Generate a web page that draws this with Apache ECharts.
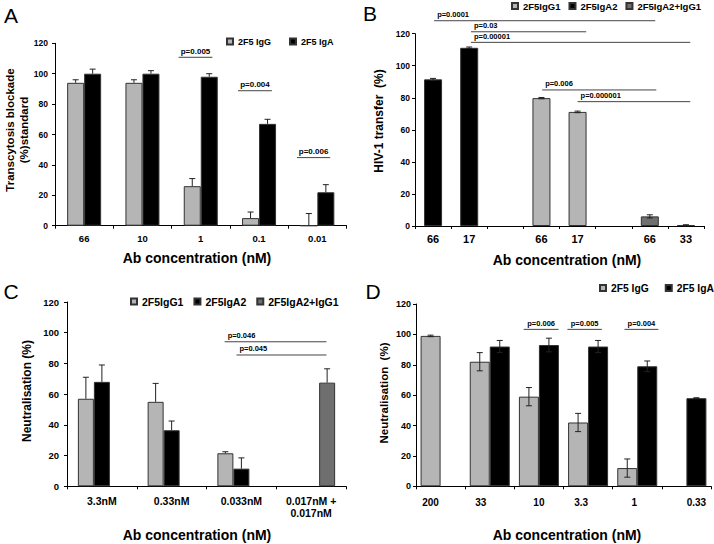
<!DOCTYPE html>
<html><head><meta charset="utf-8">
<script src="https://cdn.jsdelivr.net/npm/echarts@6/dist/echarts.min.js"></script>
<style>html,body{margin:0;padding:0;background:#fff}#c{width:714px;height:544px}</style>
</head><body><div id="c"></div>
<script>
// ---------- Panel A ----------
const catsA = ['66', '10', '1', '0.1', '0.01'];
const igGA = [94, 94, 26, 5, 0];
const igGAErr = [2, 2, 5, 4, 8];
const igAA = [100, 100, 98, 67, 22];
const igAAErr = [3, 2, 2, 3, 5];
const pLabelsA = ['p=0.005', 'p=0.004', 'p=0.006'];
const pCatsA = [2, 3, 4];
const pLevelsA = [110.8, 88.8, 44.8];

// ---------- Panel B ----------
const catsB = ['66', '17', '', '66', '17', '', '66', '33'];
const igA2B = [91.5, 111.2, null, null, null, null, null, null];
const igA2BErr = [0.6, 0.5, null, null, null, null, null, null];
const igG1B = [null, null, null, 79.8, 71.2, null, null, null];
const igG1BErr = [null, null, null, 0.4, 0.5, null, null, null];
const comboB = [null, null, null, null, null, null, 6.0, 0.5];
const comboBErr = [null, null, null, null, null, null, 1.0, 0.3];
const pLabelsB = ['p=0.0001', 'p=0.03', 'p=0.00001', 'p=0.006', 'p=0.000001'];
const pFromB = [0, 1, 1, 3, 4];
const pToB = [6, 4, 7, 6, 7];
const pLevelsB = [128.1, 121.2, 114.6, 84.9, 77.6];

// ---------- Panel C ----------
const catsC = ['3.3nM', '0.33nM', '0.033nM', '0.017nM +\n0.017nM'];
const igG1C = [57, 55, 21.5, null];
const igG1CErr = [14, 12, 1, null];
const igA2C = [68, 36.5, 11.5, null];
const igA2CErr = [11, 6, 7, null];
const comboC = [null, null, null, 67.5];
const comboCErr = [null, null, null, 9];
const pLabelsC = ['p=0.046', 'p=0.045'];
const pLevelsC = [94.1, 85.5];

// ---------- Panel D ----------
const catsD = ['200', '33', '10', '3.3', '1', '0.33'];
const igGD = [99, 82, 59, 42, 12, null];
const igGDErr = [0.5, 6, 6, 6, 6, null];
const igAD = [null, 92, 93, 92, 79, 58];
const igADErr = [null, 4, 4.5, 4, 3.5, 0.3];
const pLabelsD = ['p=0.006', 'p=0.005', 'p=0.004'];
const pCatsD = [2, 3, 4];
const pLevelsD = [103.3, 103.3, 103.3];

const FONT = 'Liberation Sans, Arial, sans-serif';
const LIGHT = '#b5b5b5', BLACK = '#000000', DARK = '#6f6f6f';

function errRender(barW, slot, nSlots, twoSided) {
  return function (params, api) {
    const ci = api.value(0), v = api.value(1), e = api.value(2);
    const base = api.coord([ci, v]);
    const x = base[0] + (slot - (nSlots - 1) / 2) * barW;
    const top = api.coord([ci, v + e])[1];
    const bot = twoSided ? api.coord([ci, v - e])[1] : base[1];
    const style = { stroke: '#222', lineWidth: 1, fill: 'none' };
    const ch = [
      { type: 'line', shape: { x1: x, y1: top, x2: x, y2: bot }, style: style },
      { type: 'line', shape: { x1: x - 3, y1: top, x2: x + 3, y2: top }, style: style }
    ];
    if (twoSided) ch.push({ type: 'line', shape: { x1: x - 3, y1: bot, x2: x + 3, y2: bot }, style: style });
    return { type: 'group', children: ch };
  };
}
function errSeries(idx, vals, errs, barW, slot, nSlots, twoSided) {
  const data = [];
  vals.forEach((v, i) => { if (v !== null && errs[i] !== null) data.push([i, v, errs[i]]); });
  return { type: 'custom', xAxisIndex: idx, yAxisIndex: idx, z: 5, silent: true,
    itemStyle: { color: '#222' },
    renderItem: errRender(barW, slot, nSlots, twoSided), data: data };
}
// p-value bracket: spans[i] = [fromFrac, toFrac] of a category width
function pSeries(idx, labels, levels, froms, tos, spans, align, fs) {
  const data = levels.map((l, i) => [froms[i], l]);
  return { type: 'custom', xAxisIndex: idx, yAxisIndex: idx, z: 6, silent: true, clip: false,
    itemStyle: { color: '#000' },
    renderItem: function (params, api) {
      const i = params.dataIndex;
      const sp = spans[i];
      const catW = api.size([1, 0])[0];
      const lvl = api.value(1);
      const p1 = api.coord([froms[i], lvl]);
      const p2 = api.coord([tos[i], lvl]);
      const x1 = p1[0] + sp[0] * catW, x2 = p2[0] + sp[1] * catW, y = p1[1];
      return { type: 'group', children: [
        { type: 'line', shape: { x1: x1, y1: y, x2: x2, y2: y }, style: { stroke: '#444', lineWidth: 1, fill: 'none' } },
        { type: 'text', style: { text: labels[i], x: align === 'left' ? x1 + 3 : (x1 + x2) / 2, y: y - 2,
            align: align, verticalAlign: 'bottom',
            font: 'bold ' + fs + 'px ' + FONT, fill: '#000', stroke: '#000', lineWidth: 0 } }
      ] };
    }, data: data };
}
function barSeries(idx, name, vals, color, barW, stack) {
  const s = { type: 'bar', name: name, xAxisIndex: idx, yAxisIndex: idx, data: vals.map(v => v === null ? '-' : v),
    barWidth: barW, barGap: '0%',
    itemStyle: { color: color, borderColor: '#333', borderWidth: 1 } };
  if (stack) s.stack = stack;
  return s;
}
function xAx(idx, data, fs, margin, shifts) {
  const items = data.map((c, i) => {
    if (!shifts || !shifts[i]) return c;
    const s = shifts[i];
    return { value: c, textStyle: { padding: s < 0 ? [0, -2 * s, 0, 0] : [0, 0, 0, 2 * s] } };
  });
  return { type: 'category', gridIndex: idx, data: items,
    axisLine: { show: true, lineStyle: { color: '#000', width: 1 } },
    axisTick: { show: true, length: 3, lineStyle: { color: '#000' } },
    axisLabel: { interval: 0, fontSize: fs, fontWeight: 'bold', color: '#000', margin: margin, fontFamily: FONT, lineHeight: 12 } };
}
function yAx(idx, fs, margin) {
  return { type: 'value', gridIndex: idx, min: 0, max: 120, interval: 20, splitLine: { show: false },
    axisLine: { show: true, lineStyle: { color: '#000', width: 1 } },
    axisTick: { show: true, length: 3, lineStyle: { color: '#000' } },
    axisLabel: { fontSize: fs, fontWeight: 'bold', color: '#000', margin: margin, fontFamily: FONT } };
}
function gText(text, x, y, size, weight, rot) {
  return { type: 'text', x: x, y: y, rotation: rot || 0,
    style: { text: text, x: 0, y: 0, align: 'center', verticalAlign: 'middle', textAlign: 'center', textVerticalAlign: 'middle',
      font: weight + ' ' + size + 'px ' + FONT, fill: '#000', lineHeight: size + 2 } };
}
function legendAt(left, top, names, fs, gap) {
  return { left: left, top: top, data: names, icon: 'rect', itemWidth: 6, itemHeight: 6, itemGap: gap,
    selectedMode: false, padding: 0, textStyle: { fontSize: fs, fontWeight: 'bold', color: '#000', fontFamily: FONT } };
}

const chart = echarts.init(document.getElementById('c'), null, { renderer: 'svg' });
const option = {
  animation: false,
  backgroundColor: '#fff',
  textStyle: { fontFamily: FONT },
  grid: [
    { left: 55, top: 43.3, width: 291.5, height: 182.4 },
    { left: 415, top: 33.7, width: 289, height: 192.3 },
    { left: 67, top: 302, width: 279, height: 184.3 },
    { left: 416, top: 304, width: 295, height: 182.3 }
  ],
  xAxis: [xAx(0, catsA, 9.5, 7), xAx(1, catsB, 11, 7), xAx(2, catsC, 10.5, 9),
          xAx(3, catsD, 10, 10, [-10, -9, 0, -7, -3, 10])],
  yAxis: [yAx(0, 8.5, 7), yAx(1, 8.5, 5), yAx(2, 9.5, 8), yAx(3, 9, 5)],
  legend: [
    legendAt(226, 37, ['2F5 IgG', '2F5 IgA'], 9, 18),
    legendAt(511, 1, ['2F5IgG1', '2F5IgA2', '2F5IgA2+IgG1'], 9.5, 8),
    legendAt(130, 296, ['2F5IgG1', '2F5IgA2', '2F5IgA2+IgG1'], 10.5, 10),
    legendAt(599, 283, ['2F5 IgG', '2F5 IgA'], 10.3, 16)
  ],
  series: [
    barSeries(0, '2F5 IgG', igGA, LIGHT, 17),
    barSeries(0, '2F5 IgA', igAA, BLACK, 17),
    errSeries(0, igGA, igGAErr, 17, 0, 2, false),
    errSeries(0, igAA, igAAErr, 17, 1, 2, false),
    pSeries(0, pLabelsA, pLevelsA, pCatsA, pCatsA, [[-0.38, 0.2], [-0.36, 0.22], [-0.35, 0.22]], 'center', 8),

    barSeries(1, '2F5IgA2', igA2B, BLACK, 18, 'b'),
    barSeries(1, '2F5IgG1', igG1B, LIGHT, 18, 'b'),
    barSeries(1, '2F5IgA2+IgG1', comboB, DARK, 18, 'b'),
    errSeries(1, igA2B, igA2BErr, 18, 0, 1, true),
    errSeries(1, igG1B, igG1BErr, 18, 0, 1, true),
    errSeries(1, comboB, comboBErr, 18, 0, 1, true),
    pSeries(1, pLabelsB, pLevelsB, pFromB, pToB, [[0.03, 0.15], [0.05, 0.24], [0.05, 0.12], [0.02, 0.18], [0, 0.12]], 'left', 7.5),

    barSeries(2, '2F5IgG1', igG1C, LIGHT, 16),
    barSeries(2, '2F5IgA2', igA2C, BLACK, 16),
    barSeries(2, '2F5IgA2+IgG1', comboC, DARK, 16),
    errSeries(2, igG1C, igG1CErr, 16, 0, 3, false),
    errSeries(2, igA2C, igA2CErr, 16, 1, 3, false),
    errSeries(2, comboC, comboCErr, 16, 2, 3, false),
    pSeries(2, pLabelsC, pLevelsC, [2, 2], [3, 3], [[-0.24, 0.22], [-0.07, 0.22]], 'left', 7.5),

    barSeries(3, '2F5 IgG', igGD, LIGHT, 20),
    barSeries(3, '2F5 IgA', igAD, BLACK, 20),
    errSeries(3, igGD, igGDErr, 20, 0, 2, true),
    errSeries(3, igAD, igADErr, 20, 1, 2, true),
    pSeries(3, pLabelsD, pLevelsD, pCatsD, pCatsD, [[-0.31, 0.4], [-0.42, 0.28], [-0.26, 0.43]], 'center', 7.5)
  ],
  graphic: [
    gText('A', 11, 15, 21, 'normal'),
    gText('B', 370, 13, 21, 'normal'),
    gText('C', 11, 291, 21, 'normal'),
    gText('D', 373, 291, 21, 'normal'),
    gText('Ab concentration (nM)', 197, 258, 14, 'bold'),
    gText('Ab concentration (nM)', 567, 260, 14, 'bold'),
    gText('Ab concentration (nM)', 197, 535, 14, 'bold'),
    gText('Ab concentration (nM)', 567, 535, 14, 'bold'),
    gText('Transcytosis blockade\n(%)standard', 17, 130, 11.5, 'bold', Math.PI / 2),
    gText('HIV-1 transfer  (%)', 379, 121, 12, 'bold', Math.PI / 2),
    gText('Neutralisation (%)', 27, 391, 12, 'bold', Math.PI / 2),
    gText('Neutralisation  (%)', 384, 393, 11.5, 'bold', Math.PI / 2)
  ]
};
chart.setOption(option);
</script>
</body></html>
